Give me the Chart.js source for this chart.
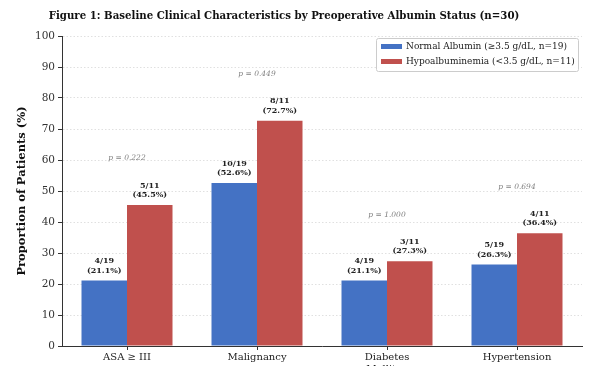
<!DOCTYPE html>
<html>
<head>
<meta charset="utf-8">
<script src="https://cdn.jsdelivr.net/npm/chart.js@4/dist/chart.umd.min.js"></script>
<style>
  html, body { margin: 0; padding: 0; background: #fff; }
  #wrap { width: 595px; height: 366px; position: relative; }
</style>
</head>
<body>
<div id="wrap"><canvas id="albuminChart"></canvas></div>
<script>
const categories = ["ASA \u2265 III", "Malignancy", ["Diabetes", "Mellitus"], "Hypertension"];
const normalPct = [21.1, 52.6, 21.1, 26.3];
const hypoPct = [45.5, 72.7, 27.3, 36.4];
const normalCounts = ["4/19", "10/19", "4/19", "5/19"];
const hypoCounts = ["5/11", "8/11", "3/11", "4/11"];
const pValues = ["p = 0.222", "p = 0.449", "p = 1.000", "p = 0.694"];
const yTicks = [0, 10, 20, 30, 40, 50, 60, 70, 80, 90, 100];

const BLUE = "#4472C4";
const RED = "#C0504D";
const SERIF = "'DejaVu Serif', serif";

const annotations = {
  id: "annotations",
  afterDatasetsDraw(chart) {
    const ctx = chart.ctx;
    const x = chart.scales.x, y = chart.scales.y;
    ctx.save();
    ctx.textAlign = "center";
    ctx.textBaseline = "middle";
    // bar labels
    const labelSets = [[normalCounts, normalPct], [hypoCounts, hypoPct]];
    labelSets.forEach(([counts, pcts], di) => {
      const meta = chart.getDatasetMeta(di);
      meta.data.forEach((bar, i) => {
        ctx.font = "bold 8px " + SERIF;
        ctx.fillStyle = "#222";
        ctx.fillText(counts[i], bar.x, bar.y - 19.5);
        ctx.fillText("(" + pcts[i].toFixed(1) + "%)", bar.x, bar.y - 10);
      });
    });
    // p values
    ctx.font = "italic 7.5px " + SERIF;
    ctx.fillStyle = "#808080";
    pValues.forEach((p, i) => {
      const top = Math.max(normalPct[i], hypoPct[i]) + 15;
      ctx.fillText(p, x.getPixelForValue(i), y.getPixelForValue(top));
    });
    ctx.restore();
  },
  afterDraw(chart) {
    const ctx = chart.ctx;
    ctx.save();
    // title
    ctx.font = "bold 10.2px " + SERIF;
    ctx.fillStyle = "#111";
    ctx.textAlign = "center";
    ctx.textBaseline = "middle";
    ctx.fillText("Figure 1: Baseline Clinical Characteristics by Preoperative Albumin Status (n=30)", 284, 16);
    // y title
    ctx.translate(22, 191);
    ctx.rotate(-Math.PI / 2);
    ctx.font = "bold 11.5px " + SERIF;
    ctx.fillText("Proportion of Patients (%)", 0, 0);
    ctx.restore();

    // legend
    ctx.save();
    ctx.fillStyle = "rgba(255,255,255,0.9)";
    ctx.strokeStyle = "#cccccc";
    ctx.lineWidth = 1;
    ctx.beginPath();
    ctx.roundRect(376.5, 38.5, 202, 33, 2);
    ctx.fill();
    ctx.stroke();
    ctx.font = "9px " + SERIF;
    ctx.textAlign = "left";
    ctx.textBaseline = "middle";
    chart.data.datasets.forEach((ds, i) => {
      const cy = 46.5 + i * 15;
      ctx.fillStyle = ds.backgroundColor;
      ctx.fillRect(381, cy - 2.5, 21, 5);
      ctx.fillStyle = "#222";
      ctx.fillText(ds.label, 406, cy);
    });
    ctx.restore();
  }
};

new Chart(document.getElementById("albuminChart"), {
  type: "bar",
  data: {
    labels: categories,
    datasets: [
      { label: "Normal Albumin (\u22653.5 g/dL, n=19)", data: normalPct, backgroundColor: BLUE },
      { label: "Hypoalbuminemia (<3.5 g/dL, n=11)", data: hypoPct, backgroundColor: RED }
    ]
  },
  options: {
    responsive: true,
    maintainAspectRatio: false,
    animation: false,
    layout: { padding: { top: 36, right: 13, left: 0, bottom: 0 } },
    datasets: { bar: { categoryPercentage: 0.7, barPercentage: 1.0 } },
    plugins: {
      legend: { display: false },
      tooltip: { enabled: false },
      title: { display: false }
    },
    scales: {
      x: {
        grid: { drawOnChartArea: false, offset: false, tickLength: 4, tickColor: "#333" },
        border: { color: "#333", width: 1 },
        ticks: { font: { family: SERIF, size: 10 }, color: "#222", padding: 1, maxRotation: 0 },
        afterFit(scale) { scale.height = 20; }
      },
      y: {
        min: 0,
        max: 100,
        afterBuildTicks(scale) { scale.ticks = yTicks.map(v => ({ value: v })); },
        grid: { color: "#e0e0e0", tickColor: "#333", tickLength: 4, tickBorderDash: [] },
        border: { color: "#333", width: 1, dash: [1.5, 2] },
        ticks: { font: { family: SERIF, size: 10.5 }, color: "#333", padding: 3 },
        afterFit(scale) { scale.width = 62; }
      }
    }
  },
  plugins: [annotations]
});
</script>
</body>
</html>
